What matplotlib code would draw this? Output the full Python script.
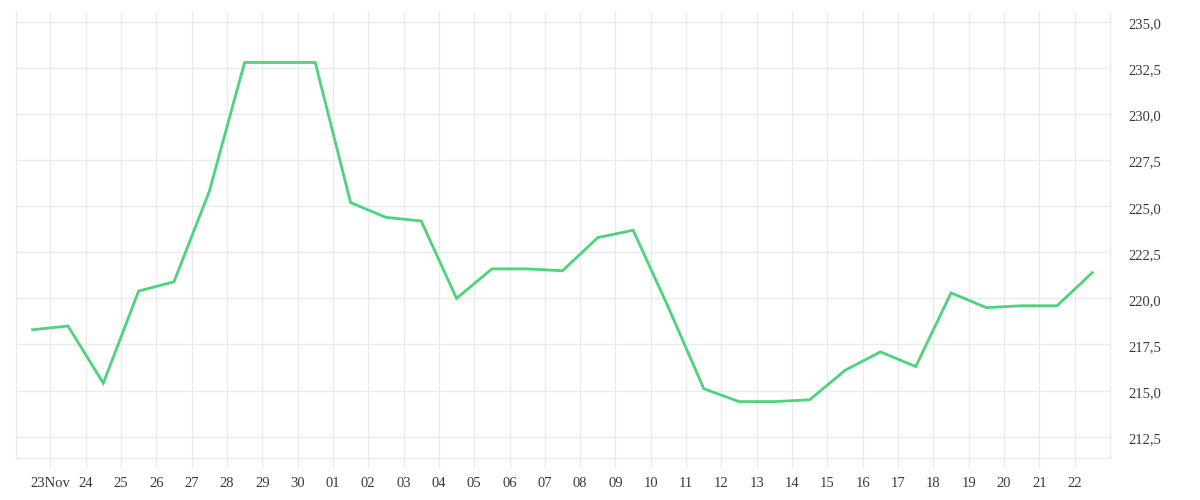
import matplotlib
matplotlib.use("Agg")
import matplotlib.pyplot as plt
import matplotlib.transforms as mtransforms
from matplotlib.ticker import FixedLocator, FuncFormatter

# Data: one value per day, sampled at midday, from 22 Nov to 22 Dec
values = [218.3, 218.5, 215.4, 220.4, 220.9, 225.8, 232.8, 232.8, 232.8,
          225.2, 224.4, 224.2, 220.0, 221.6, 221.6, 221.5, 223.3, 223.7,
          219.5, 215.1, 214.4, 214.4, 214.5, 216.1, 217.1, 216.3, 220.3,
          219.5, 219.6, 219.6, 221.4]
x_labels = ["23Nov", "24", "25", "26", "27", "28", "29", "30", "01", "02",
            "03", "04", "05", "06", "07", "08", "09", "10", "11", "12",
            "13", "14", "15", "16", "17", "18", "19", "20", "21", "22"]
y_ticks = [212.5, 215.0, 217.5, 220.0, 222.5, 225.0, 227.5, 230.0, 232.5, 235.0]

# x positions: days relative to 23 Nov 00:00, points at midday
xs = [i - 0.5 for i in range(len(values))]
label_pos = list(range(len(x_labels)))

plt.rcParams['font.family'] = ['Liberation Serif', 'DejaVu Serif']

fig = plt.figure(figsize=(12, 5), dpi=100)
ax = fig.add_axes([15.7 / 1200, 1 - 458 / 500, (1110 - 15.7) / 1200, (458 - 12) / 500])

grid_c = '#ebebeb'
ax.plot(xs, values, color='#4cd37b', lw=2.0, solid_joinstyle='miter', zorder=3)

ax.set_xlim(-0.98, 30.0)
ax.set_ylim(211.34, 235.54)

ax.xaxis.set_major_locator(FixedLocator(label_pos))
ax.set_xticklabels(x_labels)
ax.yaxis.set_major_locator(FixedLocator(y_ticks))
ax.yaxis.set_major_formatter(FuncFormatter(lambda v, p: f"{v:.1f}".replace('.', ',')))

ax.yaxis.tick_right()
ax.grid(True, color=grid_c, lw=1.0, zorder=0)
ax.tick_params(axis='x', length=7.2, width=1.0, color=grid_c, pad=6.5,
               labelsize=10.5, labelcolor='#3a3a3a')
ax.tick_params(axis='y', length=0, pad=13, labelsize=10.5, labelcolor='#3a3a3a')
offset = mtransforms.ScaledTranslation(0, -3 / 100, fig.dpi_scale_trans)
for lbl in ax.get_yticklabels():
    lbl.set_va('center')
    lbl.set_transform(lbl.get_transform() + offset)

for s in ['left', 'right', 'bottom']:
    ax.spines[s].set_color(grid_c)
    ax.spines[s].set_linewidth(1.0)
ax.spines['top'].set_visible(False)

fig.savefig('out.png', dpi=100)
